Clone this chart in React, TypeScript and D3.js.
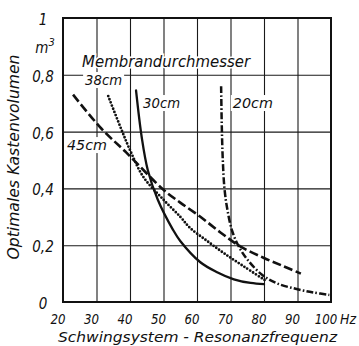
import * as d3 from "d3"
import { useEffect, useRef } from "react"

// Membrandurchmesser-Kurven: Resonanzfrequenz (Hz) -> optimales Kastenvolumen (m3)
const freq45 = [23, 31.5, 39, 50, 55, 61, 67, 73, 80, 86, 91]
const vol45 = [0.73, 0.61, 0.525, 0.395, 0.35, 0.3, 0.245, 0.195, 0.155, 0.125, 0.1]

const freq38 = [33.5, 37, 40, 44, 50, 55, 58, 63, 68, 74, 80.5]
const vol38 = [0.725, 0.62, 0.535, 0.44, 0.36, 0.3, 0.26, 0.215, 0.172, 0.125, 0.075]

const freq30 = [41.8, 43.5, 45.3, 48.3, 52.8, 55, 61, 66, 71, 76, 80]
const vol30 = [0.745, 0.58, 0.465, 0.36, 0.255, 0.215, 0.14, 0.105, 0.08, 0.067, 0.063]

const freq20 = [67.2, 67.4, 67.7, 68.2, 69, 70.5, 72.5, 75, 79.5, 84, 90, 95, 99.5]
const vol20 = [0.76, 0.62, 0.5, 0.4, 0.33, 0.25, 0.195, 0.15, 0.095, 0.065, 0.045, 0.033, 0.025]

const xTicks = [20, 30, 40, 50, 60, 70, 80, 90, 100]
const xTickLabels = ["20", "30", "40", "50", "60", "70", "80", "90", "100"]
const yTicks = [0, 0.2, 0.4, 0.6, 0.8, 1]
const yTickLabels = ["0", "0,2", "0,4", "0,6", "0,8", "1"]

const curveNames = ["45cm", "38cm", "30cm", "20cm"]

const W = 359
const H = 346
const font = "'DejaVu Sans Condensed', 'DejaVu Sans', sans-serif"
const ink = "#111"

const x = d3.scaleLinear().domain([20, 100]).range([63, 331])
const y = d3.scaleLinear().domain([0, 1]).range([302, 18])

export default function App() {
  const gridRef = useRef<SVGGElement>(null)

  // grid drawn with d3 axes (tick lines spanning the plot)
  useEffect(() => {
    const g = d3.select(gridRef.current)
    g.selectAll("*").remove()
    g.append("g")
      .attr("transform", `translate(0,${y(0)})`)
      .call(
        d3
          .axisBottom(x)
          .tickValues(xTicks.slice(1, -1))
          .tickSize(-(y(0) - y(1)))
          .tickFormat(() => "")
      )
    g.append("g")
      .attr("transform", `translate(${x(20)},0)`)
      .call(
        d3
          .axisLeft(y)
          .tickValues(yTicks.slice(1, -1))
          .tickSize(-(x(100) - x(20)))
          .tickFormat(() => "")
      )
    g.selectAll(".domain").remove()
    g.selectAll(".tick line").attr("stroke", "#1a1a1a").attr("stroke-width", 1.1)
  }, [])

  const line = d3
    .line<[number, number]>()
    .x((d) => x(d[0]))
    .y((d) => y(d[1]))
    .curve(d3.curveCatmullRom.alpha(0.5))

  const zip = (a: number[], b: number[]) => a.map((v, i) => [v, b[i]] as [number, number])

  const series = [
    { pts: zip(freq45, vol45), dash: "9 3.5", cap: "butt", w: 2.6 },
    { pts: zip(freq38, vol38), dash: "0 3.4", cap: "round", w: 2.8 },
    { pts: zip(freq30, vol30), dash: null, cap: "round", w: 2.3 },
    { pts: zip(freq20, vol20), dash: "7 2.2 1.6 2.2", cap: "butt", w: 2.5 },
  ]

  // label anchors (data coords) + widths
  const labels = [
    { text: curveNames[0], f: 21.2, v: 0.535, w: 40 },
    { text: curveNames[1], f: 26.6, v: 0.764, w: 37 },
    { text: curveNames[2], f: 43.9, v: 0.683, w: 37 },
    { text: curveNames[3], f: 70.7, v: 0.683, w: 40 },
  ]

  return (
    <svg width={W} height={H} style={{ position: "absolute", left: 0, top: 0, background: "#fff" }}>
      <g ref={gridRef} />

      <text
        x={x(25.7)}
        y={y(0.827)}
        fontFamily={font}
        fontStyle="italic"
        fontSize={15}
        textLength={168}
        lengthAdjust="spacingAndGlyphs"
        fill={ink}
        stroke="#fff"
        strokeWidth={3}
        paintOrder="stroke"
      >
        Membrandurchmesser
      </text>

      {labels.map((l) => (
        <g key={l.text}>
          <rect x={x(l.f) - 2} y={y(l.v) - 13} width={l.w + 4} height={16} fill="#fff" />
          <text
            x={x(l.f)}
            y={y(l.v)}
            fontFamily={font}
            fontStyle="italic"
            fontSize={14}
            textLength={l.w}
            lengthAdjust="spacingAndGlyphs"
            fill={ink}
          >
            {l.text}
          </text>
        </g>
      ))}

      {series.map((s, i) => (
        <path
          key={i}
          d={line(s.pts) || ""}
          fill="none"
          stroke={ink}
          strokeWidth={s.w}
          strokeDasharray={s.dash || undefined}
          strokeLinecap={s.cap as any}
        />
      ))}

      <rect
        x={x(20)}
        y={y(1)}
        width={x(100) - x(20)}
        height={y(0) - y(1)}
        fill="none"
        stroke={ink}
        strokeWidth={2}
      />

      <g fontFamily={font} fontStyle="italic" fontSize={15} fill={ink}>
        {yTicks.map((t, i) => (
          <text key={"yl" + t} x={43} y={y(t) + 2} textAnchor="middle" dominantBaseline="central">
            {yTickLabels[i]}
          </text>
        ))}
        <text x={45} y={y(0.9) + 2} textAnchor="middle" dominantBaseline="central">
          m<tspan dy={-6} fontSize={11}>3</tspan>
        </text>
        {xTicks.map((t, i) => (
          <text
            key={"xl" + t}
            x={x(t) - 5}
            y={324}
            fontSize={14}
            textAnchor="middle"
            textLength={xTickLabels[i].length * 7.5}
            lengthAdjust="spacingAndGlyphs"
          >
            {xTickLabels[i]}
          </text>
        ))}
        <text x={x(100) + 9} y={324} fontSize={14} textLength={16} lengthAdjust="spacingAndGlyphs">
          Hz
        </text>
        <text x={58} y={342} fontSize={14} textLength={279} lengthAdjust="spacingAndGlyphs">
          Schwingsystem - Resonanzfrequenz
        </text>
        <text
          transform={`translate(19,${157}) rotate(-90)`}
          textAnchor="middle"
          textLength={205}
          lengthAdjust="spacingAndGlyphs"
        >
          Optimales Kastenvolumen
        </text>
      </g>
    </svg>
  )
}
